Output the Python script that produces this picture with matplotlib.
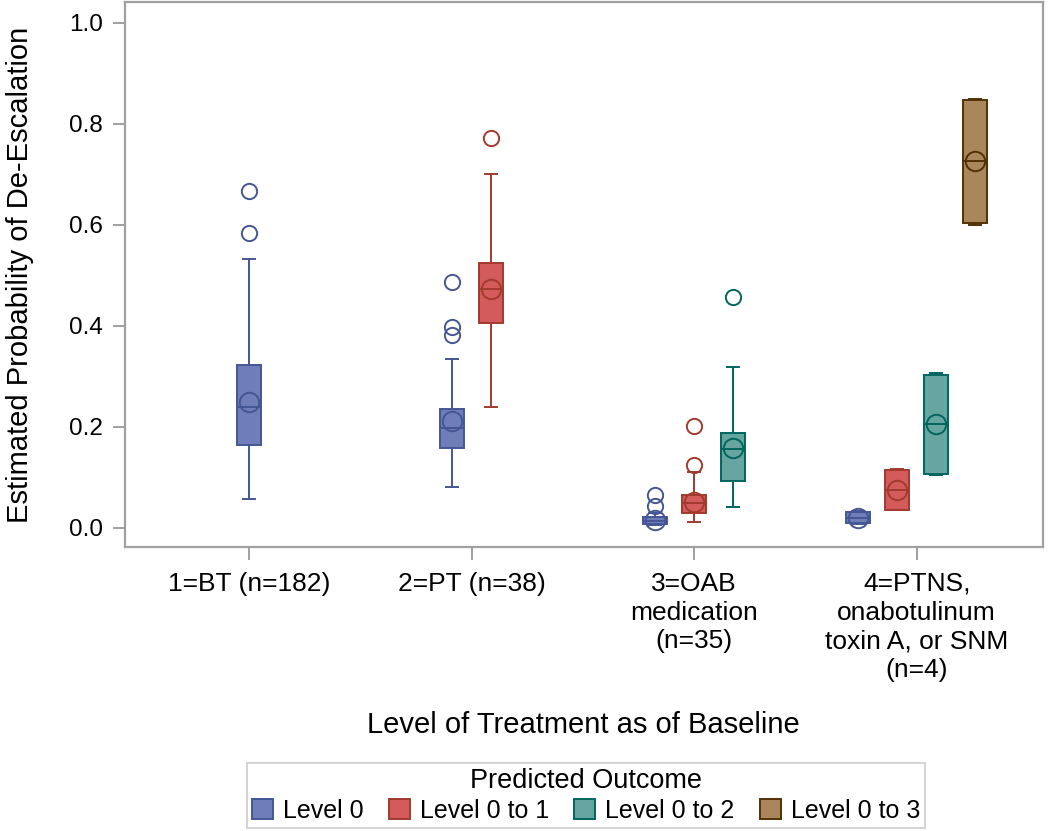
import matplotlib
matplotlib.use("Agg")
from matplotlib import pyplot as plt
from matplotlib.patches import Patch

plt.rcParams['font.family'] = ['Liberation Sans', 'DejaVu Sans']

groups = ["1=BT (n=182)", "2=PT (n=38)", "3=OAB\nmedication\n(n=35)",
          "4=PTNS,\nonabotulinum\ntoxin A, or SNM\n(n=4)"]
outcomes = ["Level 0", "Level 0 to 1", "Level 0 to 2", "Level 0 to 3"]
fill_colors = ["#6F7EB9", "#D45B5B", "#66A5A0", "#A9865B"]
line_colors = ["#445694", "#A23A2E", "#01665E", "#543005"]

# rows = outcome, columns = treatment group (None = no box)
whislo = [[0.057, 0.080, 0.005, 0.008],
          [None, 0.238, 0.012, 0.034],
          [None, None, 0.041, 0.105],
          [None, None, None, 0.600]]
q1 = [[0.164, 0.157, 0.008, 0.009],
      [None, 0.405, 0.029, 0.035],
      [None, None, 0.092, 0.107],
      [None, None, None, 0.603]]
med = [[0.238, 0.197, 0.013, 0.020],
       [None, 0.472, 0.048, 0.074],
       [None, None, 0.155, 0.205],
       [None, None, None, 0.727]]
q3 = [[0.322, 0.235, 0.021, 0.031],
      [None, 0.524, 0.064, 0.114],
      [None, None, 0.187, 0.302],
      [None, None, None, 0.846]]
whishi = [[0.531, 0.333, 0.028, 0.032],
          [None, 0.701, 0.111, 0.116],
          [None, None, 0.319, 0.307],
          [None, None, None, 0.848]]
means = [[0.248, 0.212, 0.016, 0.020],
         [None, 0.472, 0.050, 0.074],
         [None, None, 0.158, 0.205],
         [None, None, None, 0.727]]
outliers = [[[0.584, 0.667], [0.381, 0.398, 0.486], [0.042, 0.065], []],
            [[], [0.772], [0.124, 0.202], []],
            [[], [], [0.457], []],
            [[], [], [], []]]

box_w = 0.108
step = 0.175
spine_col = "#a0a0a0"

fig = plt.figure(figsize=(10.5, 8.31), dpi=100)
ax = fig.add_axes([0.119, 0.342, 0.874, 0.655])

for i, name in enumerate(outcomes):
    stats, pos = [], []
    for g in range(len(groups)):
        if q1[i][g] is None:
            continue
        present = [k for k in range(len(outcomes)) if q1[k][g] is not None]
        k = present.index(i)
        pos.append(g + (k - (len(present) - 1) / 2) * step)
        stats.append(dict(whislo=whislo[i][g], q1=q1[i][g], med=med[i][g], q3=q3[i][g],
                          whishi=whishi[i][g], mean=means[i][g], fliers=outliers[i][g]))
    lc = line_colors[i]
    ax.bxp(stats, positions=pos, widths=box_w, patch_artist=True, showmeans=True,
           manage_ticks=False, capwidths=box_w * 0.5,
           boxprops=dict(facecolor=fill_colors[i], edgecolor=lc, linewidth=1.4),
           whiskerprops=dict(color=lc, linewidth=1.4),
           capprops=dict(color=lc, linewidth=1.4),
           medianprops=dict(color=lc, linewidth=1.4),
           meanprops=dict(marker='o', markerfacecolor='none', markeredgecolor=lc,
                          markersize=14, markeredgewidth=1.4),
           flierprops=dict(marker='o', markerfacecolor='none', markeredgecolor=lc,
                           markersize=11, markeredgewidth=1.4))

ax.set_xlim(-0.557, 3.566)
ax.set_ylim(-0.038, 1.04)
ax.set_xticks(range(len(groups)))
ax.set_xticklabels(groups, fontsize=19, linespacing=1.25)
ax.set_yticks([0.0, 0.2, 0.4, 0.6, 0.8, 1.0])
ax.set_yticklabels(["0.0", "0.2", "0.4", "0.6", "0.8", "1.0"], fontsize=17.5)
ax.tick_params(axis='both', color=spine_col, length=9, width=1.4)
ax.tick_params(axis='x', pad=9)
ax.tick_params(axis='y', pad=7)
for s in ax.spines.values():
    s.set_color(spine_col)
    s.set_linewidth(1.6)

ax.set_ylabel("Estimated Probability of De-Escalation", fontsize=21)
ax.yaxis.set_label_coords(-0.099, 0.5)
ax.set_xlabel("Level of Treatment as of Baseline", fontsize=21)
ax.xaxis.set_label_coords(0.5, -0.302)

handles = [Patch(facecolor=fill_colors[i], edgecolor=line_colors[i], linewidth=1.4)
           for i in range(len(outcomes))]
leg = fig.legend(handles, outcomes, loc='lower center', bbox_to_anchor=(586 / 1050, 0.004),
                 borderaxespad=0, ncol=4, title="Predicted Outcome", fontsize=18,
                 title_fontsize=19.5, frameon=True, fancybox=False, edgecolor="#c8c8c8",
                 handlelength=0.85, handleheight=0.85, handletextpad=0.4,
                 columnspacing=1.0, borderpad=0.2, labelspacing=0.2)
leg.get_frame().set_linewidth(1.4)

fig.savefig("out.png", dpi=100)
